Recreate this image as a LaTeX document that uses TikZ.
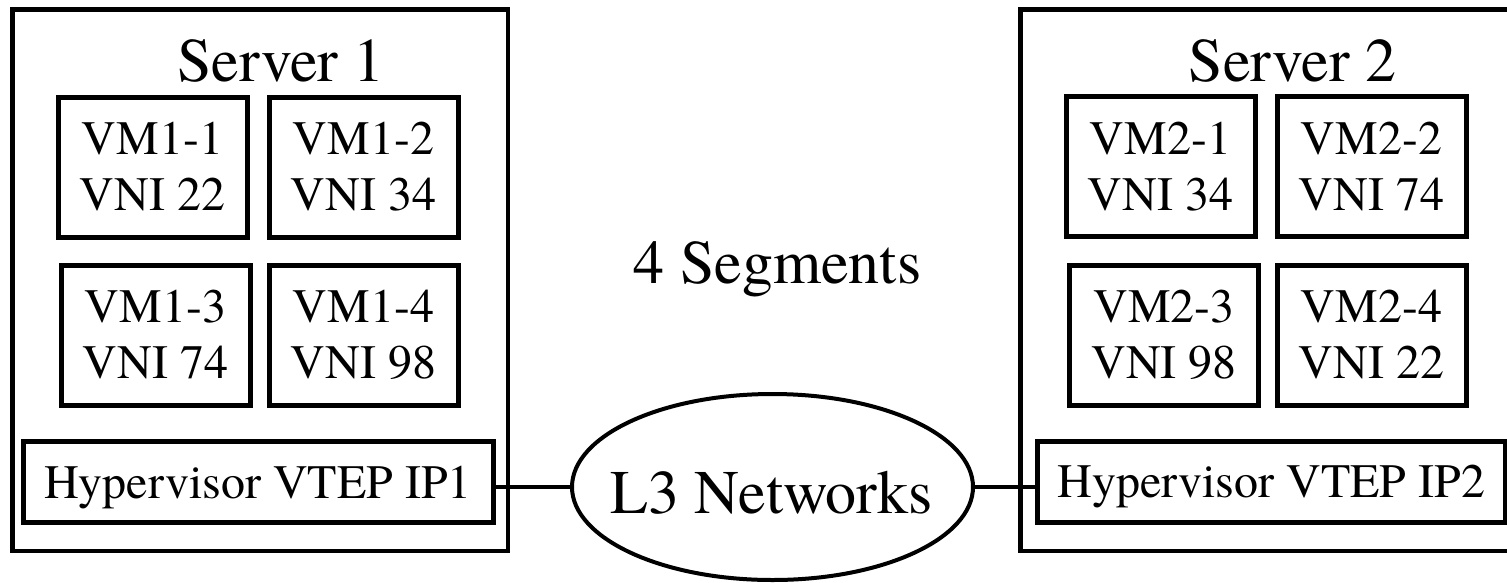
\documentclass[tikz,border=0pt]{standalone}
\usepackage{fontspec}
\setmainfont{texgyretermes}[Extension=.otf, UprightFont=*-regular,
  BoldFont=*-bold, ItalicFont=*-italic, BoldItalicFont=*-bolditalic]
\usetikzlibrary{shapes.geometric}

\begin{document}
\begin{tikzpicture}[x=1pt, y=-1pt,
  serverbox/.style={draw, rectangle, line width=4.5pt, minimum width=495.5pt,
    minimum height=541.5pt, inner sep=0pt},
  bigtext/.style={font=\rmfamily\fontsize{62}{70}\selectfont, anchor=base, inner sep=0pt},
  vmbox/.style={draw, rectangle, line width=5pt, minimum width=189pt,
    minimum height=140pt, inner sep=0pt, align=center,
    font=\rmfamily\fontsize{48}{56}\selectfont},
  hypbox/.style={draw, rectangle, line width=5pt, minimum height=81pt,
    inner sep=0pt, text depth=0pt, font=\rmfamily\fontsize{48}{56}\selectfont},
  netshape/.style={draw, ellipse, line width=4pt, minimum width=401pt,
    minimum height=186pt, inner sep=0pt},
  wire/.style={line width=4pt}]

\useasboundingbox (0,0) rectangle (1507,582);

% servers
\node[serverbox] (server1) at (260.25,280.25) {};
\node[serverbox] (server2) at (1268.25,280.25) {};
\node[bigtext] (title1) at (281,81) {Server 1};
\node[bigtext] (title2) at (1292.5,81) {Server 2};

% virtual machines of server 1
\node[vmbox] (vm11) at (152.5,167) {VM1-1\\VNI 22};
\node[vmbox] (vm12) at (363.5,167) {VM1-2\\VNI 34};
\node[vmbox] (vm13) at (155.5,335) {VM1-3\\VNI 74};
\node[vmbox] (vm14) at (363.5,335) {VM1-4\\VNI 98};

% virtual machines of server 2
\node[vmbox] (vm21) at (1160.5,166.5) {VM2-1\\VNI 34};
\node[vmbox] (vm22) at (1371.5,166.5) {VM2-2\\VNI 74};
\node[vmbox] (vm23) at (1164,335) {VM2-3\\VNI 98};
\node[vmbox] (vm24) at (1371.5,335) {VM2-4\\VNI 22};

% tunnel end points
\node[hypbox, minimum width=470pt] (hyp1) at (258,482) {Hypervisor VTEP IP1};
\node[hypbox, minimum width=467.5pt] (hyp2) at (1271.25,481.5) {Hypervisor VTEP IP2};

% routed network between the hosts
\node[bigtext] (segments) at (777.5,283) {4 Segments};
\node[netshape] (net) at (772.5,487) {};
\node[bigtext] (netlabel) at (771.5,513) {L3 Networks};

\draw[wire] (net.west -| hyp1.east) -- (net.west);
\draw[wire] (net.east) -- (net.east -| hyp2.west);
\end{tikzpicture}
\end{document}
